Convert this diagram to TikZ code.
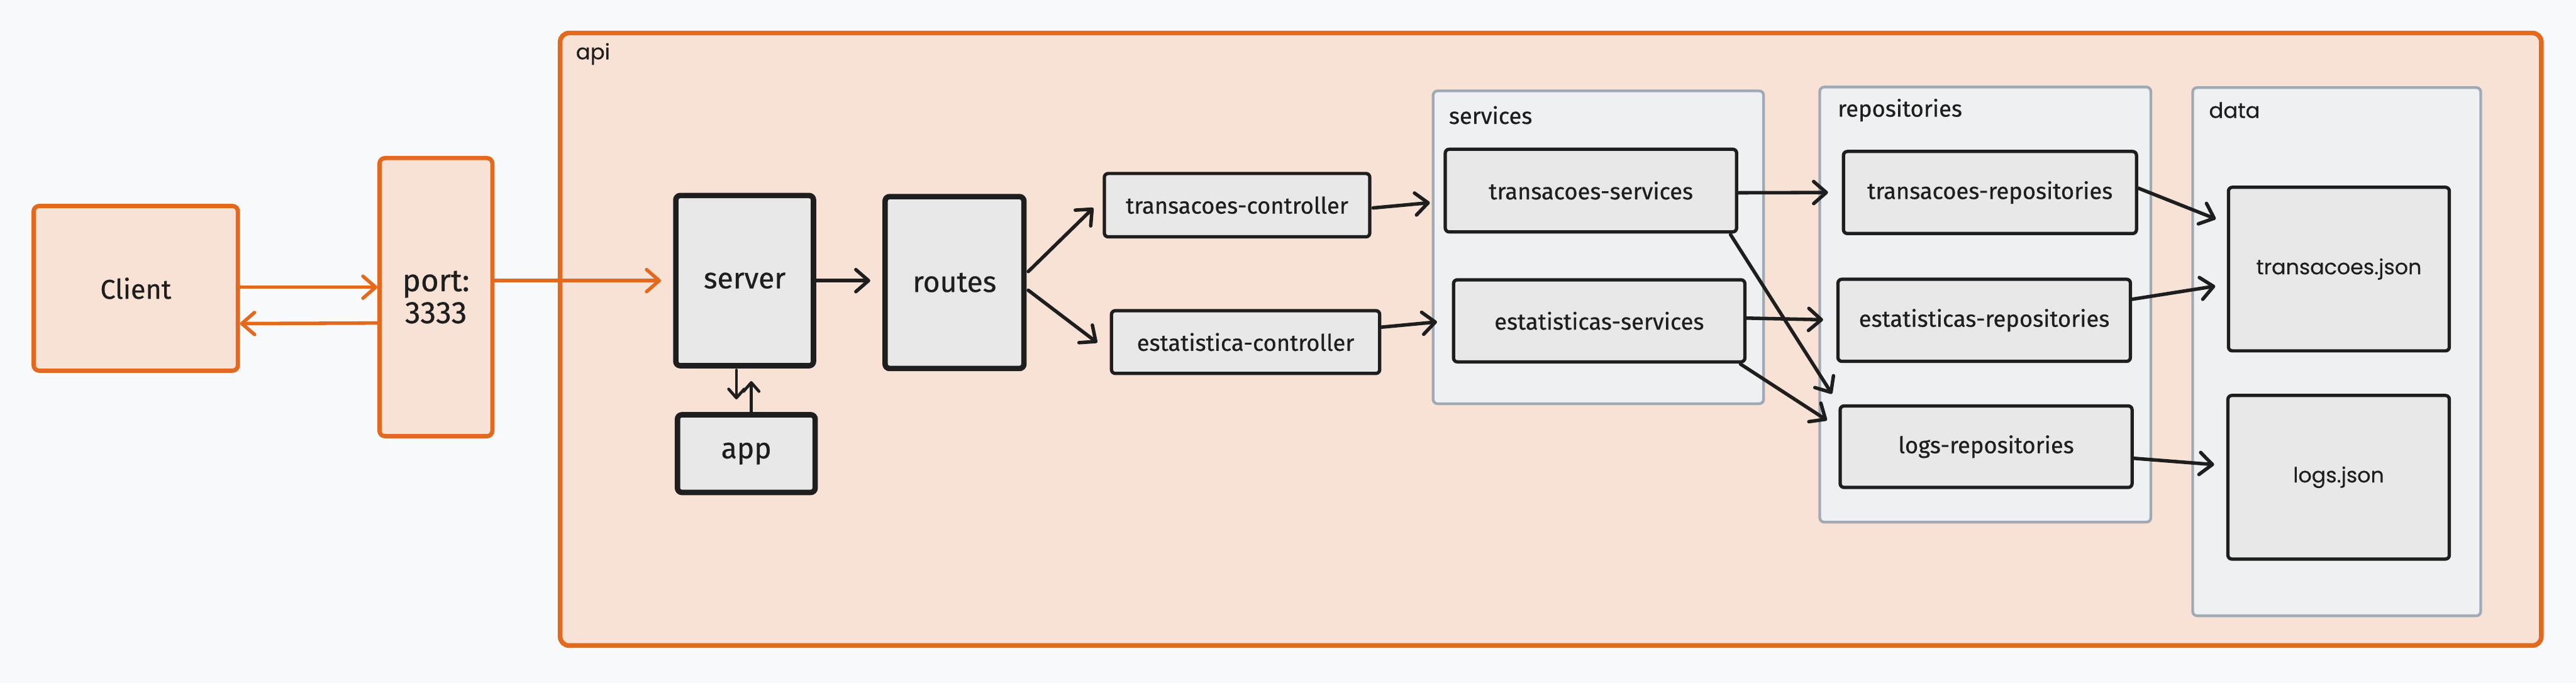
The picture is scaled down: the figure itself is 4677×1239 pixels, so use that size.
\documentclass[tikz,border=0pt]{standalone}
\usepackage{fontspec}
\setmainfont{Fira Sans}[FakeBold=0.6]
\newfontfamily\roundfont{Poppins}[FakeBold=0.4]
\usetikzlibrary{arrows.meta,calc}
\definecolor{bg}{HTML}{F8F9FA}
\definecolor{orangeline}{HTML}{E2691E}
\definecolor{orangefill}{HTML}{F8E2D5}
\definecolor{ink}{HTML}{1E1E1E}
\definecolor{nodefill}{HTML}{E8E8E8}
\definecolor{groupfill}{HTML}{EEF0F2}
\definecolor{groupline}{HTML}{A0AAB5}
% #1 style, #2 name, #3 x1, #4 y1, #5 x2, #6 y2 (pixel units), #7 text
\newcommand\mkbox[7]{\node[#1, minimum width={(#5-#3)*0.01cm}, minimum height={(#6-#4)*0.01cm}] (#2) at ({(#3+#5)/2},{(#4+#6)/2}) {#7};}
\begin{document}
\begin{tikzpicture}[x=0.01cm,y=-0.01cm,
  every node/.style={text=ink},
  obox/.style={draw=orangeline, fill=orangefill, line width=2.2pt, rounded corners=0.1cm, inner sep=0pt, font=\fontsize{14}{16}\selectfont},
  apibox/.style={draw=orangeline, fill=orangefill, line width=2.4pt, rounded corners=0.16cm, inner sep=0pt},
  bigbox/.style={draw=ink, fill=nodefill, line width=2.8pt, rounded corners=0.08cm, inner sep=0pt, font=\fontsize{15}{18}\selectfont},
  smallbox/.style={draw=ink, fill=nodefill, line width=1.7pt, rounded corners=0.07cm, inner sep=0pt, font=\fontsize{11.8}{14}\selectfont},
  jsonbox/.style={smallbox, font=\roundfont\fontsize{10.8}{13}\selectfont},
  groupbox/.style={draw=groupline, fill=groupfill, line width=1.4pt, rounded corners=0.08cm, inner sep=0pt},
  grouplabel/.style={anchor=west, inner sep=0pt, font=\fontsize{11.8}{14}\selectfont},
  roundlabel/.style={anchor=west, inner sep=0pt, font=\roundfont\fontsize{11}{14}\selectfont},
  conn/.style={draw=ink, line width=1.8pt, line cap=round, -{Straight Barb[length=2.3mm,width=4mm,round]}},
  smallconn/.style={draw=ink, line width=1.5pt, line cap=round, -{Straight Barb[length=1.6mm,width=2.8mm,round]}},
  oconn/.style={conn, draw=orangeline}
]
\fill[bg] (0,0) rectangle (4677,1239);
\useasboundingbox (0,0) rectangle (4677,1239);

% outer boxes
\mkbox{obox}{client}{61}{374}{432}{673}{Client}
\mkbox{obox, align=center, font=\fontsize{16}{16.5}\selectfont}{port}{689}{287}{894}{792}{port:\\3333}
\mkbox{apibox}{api}{1017}{60}{4614}{1172}{}
\node[roundlabel] (apilabel) at (1045,98) {api};

% groups
\mkbox{groupbox}{servicesgrp}{2602}{165}{3202}{733}{}
\node[grouplabel] (serviceslabel) at (2630,209) {services};
\mkbox{groupbox}{reposgrp}{3304}{158}{3905}{948}{}
\node[grouplabel] (reposlabel) at (3336,200) {repositories};
\mkbox{groupbox}{datagrp}{3981}{159}{4504}{1118}{}
\node[roundlabel] (datalabel) at (4010,200) {data};

% nodes
\mkbox{bigbox}{server}{1227}{355}{1477}{664}{server}
\mkbox{bigbox}{routes}{1607}{357}{1859}{669}{routes}
\mkbox{bigbox}{app}{1230}{753}{1480}{894}{app}
\mkbox{smallbox}{tc}{2005}{315}{2487}{430}{transacoes-controller}
\mkbox{smallbox}{ec}{2018}{564}{2505}{678}{estatistica-controller}
\mkbox{smallbox}{ts}{2624}{271}{3153}{421}{transacoes-services}
\mkbox{smallbox}{es}{2639}{508}{3168}{657}{estatisticas-services}
\mkbox{smallbox}{tr}{3347}{275}{3879}{424}{transacoes-repositories}
\mkbox{smallbox}{er}{3337}{507}{3868}{656}{estatisticas-repositories}
\mkbox{smallbox}{lr}{3341}{737}{3871}{885}{logs-repositories}
\mkbox{jsonbox}{tj}{4046}{340}{4447}{637}{transacoes.json}
\mkbox{jsonbox}{lj}{4045}{718}{4447}{1015}{logs.json}

% orange connectors
\draw[oconn] ($(client.east)+(0,-2)$) -- ($(port.west |- client.east)+(0,-2)$);
\draw[oconn] ($(port.west)+(0,47)$) -- ($(client.east)+(0,64)$);
\draw[oconn, shorten >=0.22cm] (port.east |- server.west) -- (server.west);

% black connectors
\draw[conn, shorten >=0.22cm] (server.east) -- (server.east -| routes.west);
\draw[smallconn] ($(server.south)+(-15,3)$) -- ($(app.north)+(-18,-23)$);
\draw[smallconn] ($(app.north)+(9,0)$) -- ($(server.south)+(12,23)$);
\draw[conn] ($(routes.east)+(3,-20)$) -- ($(tc.west)+(-17,5)$);
\draw[conn] ($(routes.east)+(3,14)$) -- ($(ec.west)+(-23,1)$);
\draw[conn] ($(tc.east)+(3,5)$) -- ($(ts.west)+(-25,22)$);
\draw[conn] ($(ec.east)+(0,-27)$) -- ($(es.west)+(-27,2)$);
\draw[conn] ($(ts.east)+(0,4)$) -- ($(tr.west)+(-25,0)$);
\draw[conn] ($(ts.south east)+(-14,2)$) -- ($(lr.north west)+(-12,-19)$);
\draw[conn] ($(es.east)+(-2,-5)$) -- ($(er.west)+(-24,-1)$);
\draw[conn] ($(es.south east)+(-11,1)$) -- ($(lr.west)+(-21,-48)$);
\draw[conn] ($(tr.east)+(0,-8)$) -- ($(tj.west)+(-20,-91)$);
\draw[conn] ($(er.east)+(-1,-38)$) -- ($(tj.west)+(-21,31)$);
\draw[conn] ($(lr.east)+(-1,21)$) -- ($(lj.west)+(-22,-23)$);
\end{tikzpicture}
\end{document}
